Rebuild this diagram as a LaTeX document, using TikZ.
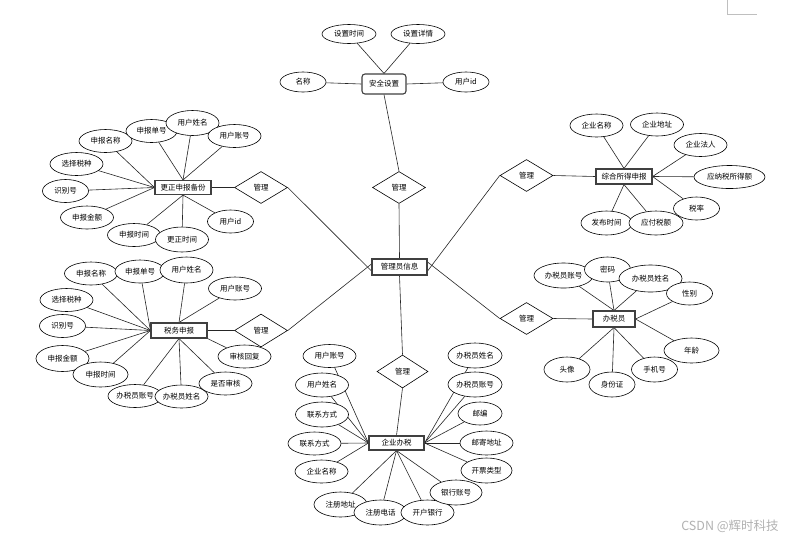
\documentclass[tikz,border=0pt]{standalone}
\usepackage{fontspec}
\setmainfont{Noto Sans CJK SC}
\usetikzlibrary{shapes.geometric,backgrounds}
\begin{document}
\begin{tikzpicture}[x=1pt,y=-1pt,
  lbl/.style={font=\fontsize{7.5}{8}\selectfont},
  ent/.style={lbl,rectangle,draw=black!75,line width=1.1pt,fill=white,minimum width=56pt,minimum height=15pt,inner sep=0pt},
  attr/.style={lbl,ellipse,draw=black,line width=0.6pt,fill=white,minimum width=53pt,minimum height=23pt,inner sep=0pt},
  sattr/.style={attr,minimum width=46pt},
  rel/.style={lbl,diamond,draw=black,line width=0.6pt,fill=white,minimum width=53pt,minimum height=32pt,inner sep=0pt},
  conn/.style={draw=black!85,line width=0.6pt}]
\useasboundingbox (0,0) rectangle (800,542);

% ---------- security settings ----------
\node[ent,rounded corners=3pt,minimum width=44pt,minimum height=20pt] (sec) at (384,84) {安全设置};
\node[attr,minimum width=54pt,minimum height=19pt] (s1) at (349,34) {设置时间};
\node[attr,minimum width=54pt,minimum height=19pt] (s2) at (418,34) {设置详情};
\node[sattr,minimum height=20pt] (s3) at (303,82) {名称};
\node[sattr,minimum height=20pt] (s4) at (466,82) {用户id};

% ---------- centre ----------
\node[rel] (d0) at (399,187.5) {管理};
\node[ent,minimum width=55pt,minimum height=16pt] (mgr) at (399.5,267) {管理员信息};

% ---------- 更正申报备份 ----------
\node[ent,minimum height=14pt] (e1) at (183,187.5) {更正申报备份};
\node[rel] (d1) at (261,187.5) {管理};
\node[attr] (a11) at (105.5,141) {申报名称};
\node[attr,minimum width=51pt] (a12) at (151.5,131) {申报单号};
\node[attr,minimum height=25pt] (a13) at (192.5,123) {用户姓名};
\node[attr] (a14) at (234.5,136) {用户账号};
\node[attr] (a15) at (76.5,164) {选择税种};
\node[sattr] (a16) at (65.5,191) {识别号};
\node[attr] (a17) at (87,217.5) {申报金额};
\node[attr] (a18) at (134,235) {申报时间};
\node[attr,minimum height=25pt] (a19) at (182,239.5) {更正时间};
\node[sattr] (a110) at (230.5,221.5) {用户id};

% ---------- 综合所得申报 ----------
\node[ent] (e2) at (624,176.5) {综合所得申报};
\node[rel] (d2) at (526.5,175.5) {管理};
\node[attr] (a21) at (596.5,125.5) {企业名称};
\node[attr] (a22) at (657,124.5) {企业地址};
\node[attr] (a23) at (700.5,145) {企业法人};
\node[attr,minimum width=71pt] (a24) at (729.5,177) {应纳税所得额};
\node[sattr] (a25) at (696.5,208.5) {税率};
\node[attr,minimum width=51pt,minimum height=24pt] (a26) at (606.5,223) {发布时间};
\node[attr,minimum width=54pt,minimum height=24pt] (a27) at (656,223) {应付税额};

% ---------- 税务申报 ----------
\node[ent] (e3) at (179,330.5) {税务申报};
\node[rel,minimum height=33pt] (d3) at (261,330.5) {管理};
\node[attr] (a31) at (91,273.5) {申报名称};
\node[attr,minimum width=50pt] (a32) at (140,271.5) {申报单号};
\node[attr,minimum height=26pt] (a33) at (186.5,270) {用户姓名};
\node[attr] (a34) at (235,288.5) {用户账号};
\node[attr] (a35) at (66.5,300) {选择税种};
\node[sattr] (a36) at (62.5,326) {识别号};
\node[attr,minimum height=26pt] (a37) at (62.5,358.5) {申报金额};
\node[attr,minimum width=55pt,minimum height=25pt] (a38) at (100.5,374.5) {申报时间};
\node[attr,minimum width=54pt] (a39) at (135,396) {办税员账号};
\node[attr,minimum width=51pt] (a310) at (181.5,396.5) {办税员姓名};
\node[attr] (a311) at (225.5,383.5) {是否审核};
\node[attr] (a312) at (244.5,356.5) {审核回复};

% ---------- 办税员 ----------
\node[ent,minimum width=42pt,minimum height=16pt] (e4) at (614,319) {办税员};
\node[rel] (d4) at (526.5,318.5) {管理};
\node[attr,minimum width=59pt,minimum height=25pt] (a41) at (563.5,275.5) {办税员账号};
\node[sattr,minimum height=25pt] (a42) at (607.5,269.5) {密码};
\node[attr,minimum width=63pt,minimum height=27pt] (a43) at (650.5,278.5) {办税员姓名};
\node[sattr] (a44) at (689.5,293.5) {性别};
\node[attr,minimum width=55pt,minimum height=25pt] (a45) at (691.5,350.5) {年龄};
\node[sattr,minimum height=25pt] (a46) at (654.5,369.5) {手机号};
\node[sattr,minimum height=25pt] (a47) at (612,384.5) {身份证};
\node[sattr,minimum height=25pt] (a48) at (567,369.5) {头像};

% ---------- 企业办税 ----------
\node[ent,minimum width=55pt,minimum height=14pt] (e5) at (396.5,443) {企业办税};
\node[rel,minimum width=51pt,minimum height=33pt] (d5) at (402.5,371.5) {管理};
\node[attr] (a51) at (329.5,356) {用户账号};
\node[attr,minimum height=24pt] (a52) at (322,385) {用户姓名};
\node[attr,minimum height=25pt] (a53) at (322,414.5) {联系方式};
\node[attr] (a54) at (314.5,443.5) {联系方式};
\node[attr] (a55) at (321.5,471.5) {企业名称};
\node[attr,minimum height=25pt] (a56) at (340.5,504.5) {注册地址};
\node[attr,minimum height=25pt] (a57) at (380.5,512.5) {注册电话};
\node[attr,minimum height=25pt] (a58) at (427.5,512.5) {开户银行};
\node[attr,minimum width=52pt,minimum height=25pt] (a59) at (456,492.5) {银行账号};
\node[attr,minimum width=51pt,minimum height=25pt] (a510) at (486.5,470.5) {开票类型};
\node[attr,minimum height=24pt] (a511) at (486.5,443) {邮寄地址};
\node[sattr,minimum width=44pt] (a512) at (480,413.5) {邮编};
\node[attr,minimum width=54pt,minimum height=25pt] (a513) at (475,384.5) {办税员账号};
\node[attr,minimum width=54pt,minimum height=25pt] (a514) at (475,355.5) {办税员姓名};

% ---------- watermark ----------
\node[font=\fontsize{12.5}{14}\selectfont,text=black!30,inner sep=0pt] (wm) at (730,526) {CSDN @辉时科技};

\begin{scope}[on background layer]
\fill[white] (0,0) rectangle (800,542);
\draw[black!25,line width=0.7pt] (727,0) -- (727,14) -- (757,14);

% security
\draw[conn] (s1) -- (sec.north);
\draw[conn] (s2) -- (sec.north);
\draw[conn] (s3) -- (sec.west);
\draw[conn] (s4) -- (sec.east);
\draw[conn] (sec.south) -- (d0.north);
\draw[conn] (d0.south) -- (mgr.north);

% 更正申报备份
\foreach \a in {a11,a15,a16,a17} \draw[conn] (\a) -- (e1.west);
\foreach \a in {a12,a13,a14} \draw[conn] (\a) -- (e1.north);
\foreach \a in {a18,a19,a110} \draw[conn] (\a) -- (e1.south);
\draw[conn] (e1.east) -- (d1.west);
\draw[conn] (d1.east) -- ([yshift=-4pt]mgr.west);

% 综合所得申报
\foreach \a in {a21,a22} \draw[conn] (\a) -- (e2.north);
\foreach \a in {a23,a24,a25} \draw[conn] (\a) -- (e2.east);
\foreach \a in {a26,a27} \draw[conn] (\a) -- (e2.south);
\draw[conn] (e2.west) -- (d2.east);
\draw[conn] (d2.west) -- ([yshift=-4pt]mgr.east);

% 税务申报
\foreach \a in {a31,a32,a35,a36,a37,a38} \draw[conn] (\a) -- (e3.west);
\foreach \a in {a33,a34} \draw[conn] (\a) -- (e3.north);
\foreach \a in {a39,a310,a311} \draw[conn] (\a) -- (e3.south);
\draw[conn] (a312) -- (e3.south east);
\draw[conn] (e3.east) -- (d3.west);
\draw[conn] (d3.east) -- ([yshift=3pt]mgr.west);

% 办税员
\foreach \a in {a41,a42,a43} \draw[conn] (\a) -- (e4.north);
\foreach \a in {a44,a45} \draw[conn] (\a) -- (e4.east);
\foreach \a in {a46,a47,a48} \draw[conn] (\a) -- (e4.south);
\draw[conn] (e4.west) -- (d4.east);
\draw[conn] (d4.west) -- ([yshift=5pt]mgr.east);

% 企业办税
\foreach \a in {a51,a52,a53,a54,a55} \draw[conn] (\a) -- (e5.west);
\foreach \a in {a510,a511,a512,a513,a514} \draw[conn] (\a) -- (e5.east);
\foreach \a in {a56,a57,a58,a59} \draw[conn] (\a) -- (e5.south);
\draw[conn] (e5.north) -- (d5.south);
\draw[conn] (d5.north) -- (mgr.south);
\end{scope}
\end{tikzpicture}
\end{document}
